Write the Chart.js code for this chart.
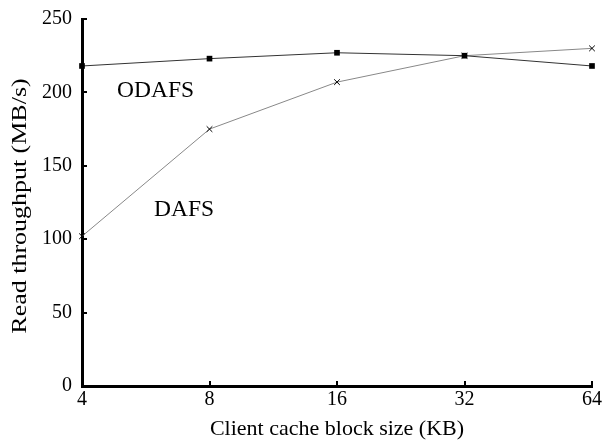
<!DOCTYPE html>
<html><head><meta charset="utf-8">
<script src="https://cdn.jsdelivr.net/npm/chart.js@4/dist/chart.umd.min.js"></script>
<style>html,body{margin:0;padding:0;background:#fff}#wrap{width:614px;height:442px}</style>
</head><body><div id="wrap"><canvas id="c" width="614" height="442"></canvas></div>
<script>
const categories = ["4", "8", "16", "32", "64"];
const odafs = [218, 223, 227, 225, 218];
const dafs = [102, 175, 207, 225, 230];
const yTicks = [0, 50, 100, 150, 200, 250];

const FONT = "'Liberation Serif', 'Times New Roman', serif";

const annotations = {
  id: 'annotations',
  afterDatasetsDraw(chart) {
    const ctx = chart.ctx, x = chart.scales.x, y = chart.scales.y;
    ctx.save();
    ctx.fillStyle = '#000';
    ctx.font = '23.5px ' + FONT;
    ctx.textBaseline = 'middle';
    ctx.textAlign = 'center';
    ctx.fillText('ODAFS', x.getPixelForValue(0.577), y.getPixelForValue(201));
    ctx.fillText('DAFS', x.getPixelForValue(0.80), y.getPixelForValue(120));
    // y axis title
    ctx.save();
    ctx.translate(20, 206);
    ctx.rotate(-Math.PI / 2);
    ctx.scale(1.18, 1);
    ctx.font = '22px ' + FONT;
    ctx.fillText('Read throughput (MB/s)', 0, 0);
    ctx.restore();
    ctx.strokeStyle = '#000';
    ctx.lineWidth = 2;
    yTicks.forEach(v => {
      const py = Math.round(y.getPixelForValue(v));
      ctx.beginPath(); ctx.moveTo(x.left, py); ctx.lineTo(x.left + 5, py); ctx.stroke();
    });
    categories.forEach((c, i) => {
      const px = Math.round(x.getPixelForValue(i));
      ctx.beginPath(); ctx.moveTo(px, y.bottom); ctx.lineTo(px, y.bottom - 5); ctx.stroke();
    });
    ctx.restore();
  }
};

new Chart(document.getElementById('c'), {
  type: 'line',
  data: {
    labels: categories,
    datasets: [
      { label: 'ODAFS', data: odafs, borderColor: '#333', borderWidth: 1,
        pointStyle: 'rect', pointRadius: 4, pointBackgroundColor: '#000', pointBorderColor: '#000', pointBorderWidth: 0 },
      { label: 'DAFS', data: dafs, borderColor: '#888', borderWidth: 1,
        pointStyle: 'cross', pointRotation: 45, pointRadius: 4, pointBorderColor: '#000', pointBorderWidth: 1 }
    ]
  },
  options: {
    responsive: false,
    animation: false,
    layout: { padding: { top: 19, right: 22, left: 0, bottom: 0 } },
    plugins: { legend: { display: false }, tooltip: { enabled: false } },
    scales: {
      x: {
        type: 'category', offset: false,
        grid: { drawOnChartArea: false, drawTicks: false },
        border: { color: '#000', width: 3 },
        ticks: { color: '#000', font: { family: FONT, size: 20 }, padding: 2, maxRotation: 0 },
        title: { display: true, text: 'Client cache block size (KB)', color: '#000', font: { family: FONT, size: 22 }, padding: { top: -4, bottom: 0 } },
        afterFit(s) { s.height = 56; }
      },
      y: {
        min: 0, max: 250,
        afterBuildTicks(s) { s.ticks = yTicks.map(v => ({ value: v })); },
        grid: { drawOnChartArea: false, drawTicks: false },
        border: { color: '#000', width: 3 },
        ticks: { color: '#000', font: { family: FONT, size: 20, lineHeight: 0.6 }, padding: 10 },
        title: { display: false },
        afterFit(s) { s.width = 82; }
      }
    }
  },
  plugins: [annotations]
});
</script></body></html>
